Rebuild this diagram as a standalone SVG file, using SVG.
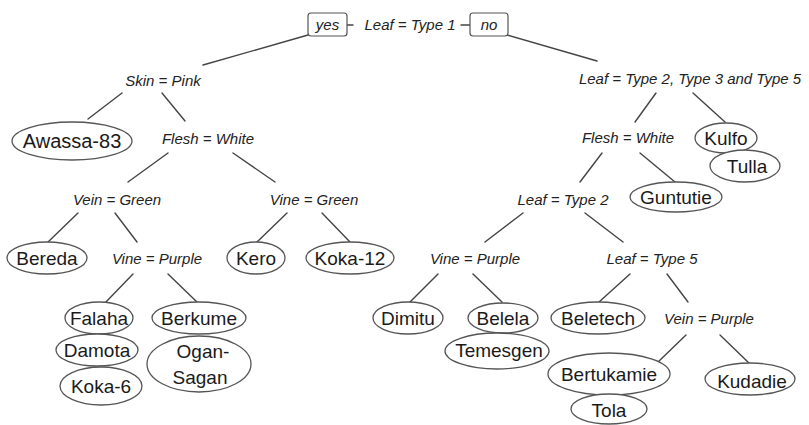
<svg xmlns="http://www.w3.org/2000/svg" width="809" height="425" viewBox="0 0 809 425">
<defs>
<style>
.bg{fill:#ffffff}
.cond{font-family:"Liberation Sans",Arial,sans-serif;font-style:italic;font-size:15px;fill:#222;text-anchor:middle;dominant-baseline:central}
.leaf{fill:#ffffff;stroke:#555;stroke-width:1.3}
.lt{font-family:"Liberation Sans",Arial,sans-serif;font-size:19px;fill:#1a1a1a;text-anchor:middle;dominant-baseline:central}
.box{fill:#ffffff;stroke:#555;stroke-width:1.2}
#connectors line{stroke:#444;stroke-width:1.4;stroke-linecap:round}
</style>
</defs>
<rect class="bg" x="0" y="0" width="809" height="425"/>
<g id="connectors">
<line x1="308" y1="35" x2="203" y2="65"/>
<line x1="507" y1="35" x2="597" y2="61"/>
<line x1="347" y1="25" x2="353" y2="25"/>
<line x1="461" y1="25" x2="470" y2="25"/>
<line x1="122" y1="93" x2="88" y2="119"/>
<line x1="162" y1="93" x2="185" y2="121"/>
<line x1="168" y1="153" x2="128" y2="182"/>
<line x1="233" y1="153" x2="275" y2="182"/>
<line x1="78" y1="213" x2="48" y2="242"/>
<line x1="115" y1="213" x2="137" y2="242"/>
<line x1="287" y1="213" x2="257" y2="242"/>
<line x1="322" y1="213" x2="350" y2="242"/>
<line x1="133" y1="274" x2="105" y2="303"/>
<line x1="168" y1="274" x2="198" y2="303"/>
<line x1="656" y1="93" x2="635" y2="122"/>
<line x1="693" y1="93" x2="725" y2="122"/>
<line x1="602" y1="153" x2="580" y2="182"/>
<line x1="640" y1="153" x2="675" y2="182"/>
<line x1="523" y1="213" x2="485" y2="242"/>
<line x1="585" y1="213" x2="623" y2="242"/>
<line x1="438" y1="274" x2="410" y2="302"/>
<line x1="473" y1="274" x2="502" y2="302"/>
<line x1="630" y1="274" x2="599" y2="302"/>
<line x1="667" y1="274" x2="688" y2="302"/>
<line x1="686" y1="335" x2="658" y2="362"/>
<line x1="720" y1="335" x2="750" y2="364"/>
</g>
<g id="root"><text class="cond" x="410" y="24">Leaf = Type 1</text></g>
<g id="yes"><rect class="box" x="308" y="13" width="39" height="23" rx="3"/><text class="cond" x="327.5" y="24">yes</text></g>
<g id="no"><rect class="box" x="470" y="13" width="38" height="23" rx="3"/><text class="cond" x="489" y="24">no</text></g>
<g id="skin"><text class="cond" x="163" y="80">Skin = Pink</text></g>
<g id="awassa"><ellipse class="leaf" cx="72" cy="141" rx="60" ry="19"/><text class="lt" x="72" y="141" style="font-size:20px">Awassa-83</text></g>
<g id="flesh1"><text class="cond" x="208" y="138">Flesh = White</text></g>
<g id="vein1"><text class="cond" x="117" y="199">Vein = Green</text></g>
<g id="vine1"><text class="cond" x="314" y="199">Vine = Green</text></g>
<g id="bereda"><ellipse class="leaf" cx="47" cy="258" rx="40" ry="16"/><text class="lt" x="47" y="258">Bereda</text></g>
<g id="vine2"><text class="cond" x="157" y="258">Vine = Purple</text></g>
<g id="kero"><ellipse class="leaf" cx="256" cy="258" rx="29" ry="16"/><text class="lt" x="256" y="258">Kero</text></g>
<g id="koka12"><ellipse class="leaf" cx="350" cy="258" rx="44" ry="16"/><text class="lt" x="350" y="258">Koka-12</text></g>
<g id="falaha"><ellipse class="leaf" cx="99" cy="318" rx="34" ry="16"/><text class="lt" x="99" y="318">Falaha</text></g>
<g id="berkume"><ellipse class="leaf" cx="199" cy="318" rx="47" ry="16"/><text class="lt" x="199" y="318">Berkume</text></g>
<g id="damota"><ellipse class="leaf" cx="97" cy="350" rx="41" ry="16"/><text class="lt" x="97" y="350">Damota</text></g>
<g id="koka6"><ellipse class="leaf" cx="101" cy="386" rx="41" ry="19"/><text class="lt" x="101" y="386">Koka-6</text></g>
<g id="ogan"><ellipse class="leaf" cx="199" cy="364" rx="52" ry="28"/><text class="lt" x="203" y="351">Ogan-</text><text class="lt" x="200" y="377">Sagan</text></g>
<g id="leaf235"><text class="cond" x="690" y="78">Leaf = Type 2, Type 3 and Type 5</text></g>
<g id="flesh2"><text class="cond" x="628" y="137">Flesh = White</text></g>
<g id="kulfo"><ellipse class="leaf" cx="726" cy="138" rx="31" ry="15"/><text class="lt" x="726" y="138">Kulfo</text></g>
<g id="tulla"><ellipse class="leaf" cx="745" cy="166" rx="35" ry="16"/><text class="lt" x="747" y="166">Tulla</text></g>
<g id="guntutie"><ellipse class="leaf" cx="676" cy="197" rx="46" ry="15"/><text class="lt" x="676" y="197">Guntutie</text></g>
<g id="leaf2"><text class="cond" x="563" y="199">Leaf = Type 2</text></g>
<g id="vine3"><text class="cond" x="475" y="258">Vine = Purple</text></g>
<g id="leaf5"><text class="cond" x="652" y="258">Leaf = Type 5</text></g>
<g id="dimitu"><ellipse class="leaf" cx="408" cy="318" rx="35" ry="16"/><text class="lt" x="408" y="318">Dimitu</text></g>
<g id="belela"><ellipse class="leaf" cx="503" cy="318" rx="35" ry="15"/><text class="lt" x="503" y="318">Belela</text></g>
<g id="temesgen"><ellipse class="leaf" cx="497" cy="351" rx="52" ry="18"/><text class="lt" x="499" y="350">Temesgen</text></g>
<g id="beletech"><ellipse class="leaf" cx="598" cy="318" rx="47" ry="16"/><text class="lt" x="598" y="318">Beletech</text></g>
<g id="vein2"><text class="cond" x="709" y="318">Vein = Purple</text></g>
<g id="bertukamie"><ellipse class="leaf" cx="609" cy="374" rx="61" ry="21"/><text class="lt" x="609" y="374">Bertukamie</text></g>
<g id="kudadie"><ellipse class="leaf" cx="750" cy="379" rx="45" ry="16"/><text class="lt" x="752" y="381">Kudadie</text></g>
<g id="tola"><ellipse class="leaf" cx="609" cy="409" rx="38" ry="15"/><text class="lt" x="609" y="410">Tola</text></g>
</svg>
